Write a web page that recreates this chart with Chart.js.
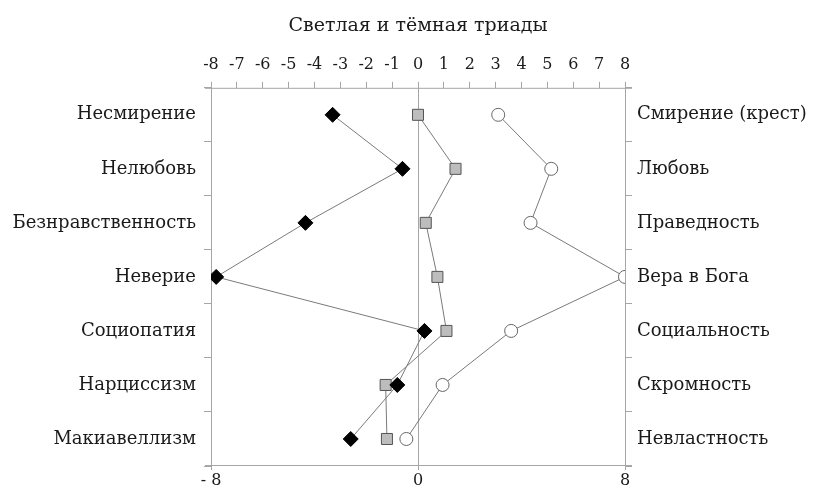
<!DOCTYPE html>
<html>
<head>
<meta charset="utf-8">
<script src="https://cdn.jsdelivr.net/npm/chart.js@4.4.1/dist/chart.umd.min.js"></script>
<style>
  html, body { margin: 0; padding: 0; background: #fff; }
  #wrap { width: 813px; height: 488px; }
</style>
</head>
<body>
<div id="wrap"><canvas id="triads"></canvas></div>
<script>
// categories (left = dark traits, right = light traits)
var darkLabels = ["Несмирение", "Нелюбовь", "Безнравственность", "Неверие", "Социопатия", "Нарциссизм", "Макиавеллизм"];
var lightLabels = ["Смирение (крест)", "Любовь", "Праведность", "Вера в Бога", "Социальность", "Скромность", "Невластность"];

// series values
var darkValues = [-3.3, -0.6, -4.35, -7.8, 0.25, -0.8, -2.6];
var middleValues = [0, 1.45, 0.3, 0.75, 1.1, -1.25, -1.2];
var lightValues = [3.1, 5.15, 4.35, 8, 3.6, 0.95, -0.45];

var topTicks = [-8, -7, -6, -5, -4, -3, -2, -1, 0, 1, 2, 3, 4, 5, 6, 7, 8];
var bottomTicks = [-8, 0, 8];

var serif = "'DejaVu Serif', 'Liberation Serif', serif";
var axisGrey = "#a6a6a6";
var lineGrey = "#7a7a7a";

// stretch the top / bottom axis lines a bit past the frame, like the original
var axisOverhang = {
	id: "axisOverhang",
	afterDraw: function (chart) {
		var a = chart.chartArea;
		var c = chart.ctx;
		c.save();
		c.strokeStyle = axisGrey;
		c.lineWidth = 1;
		c.beginPath();
		c.moveTo(a.left - 6, a.top + 0.5);
		c.lineTo(a.right + 7, a.top + 0.5);
		c.moveTo(a.left - 6, a.bottom - 0.5);
		c.lineTo(a.right + 7, a.bottom - 0.5);
		c.stroke();
		c.restore();
	}
};

var ctx = document.getElementById("triads");

var chart = new Chart(ctx, {
	type: "line",
	data: {
		labels: darkLabels,
		datasets: [
			{
				label: "Тёмная",
				data: darkValues,
				borderColor: lineGrey,
				borderWidth: 1,
				pointStyle: "rectRot",
				pointRadius: 7.5,
				pointBackgroundColor: "#000",
				pointBorderColor: "#000",
				pointBorderWidth: 1
			},
			{
				label: "Середина",
				data: middleValues,
				borderColor: lineGrey,
				borderWidth: 1,
				pointStyle: "rect",
				pointRadius: 7.8,
				pointBackgroundColor: "#bdbdbd",
				pointBorderColor: "#555",
				pointBorderWidth: 1
			},
			{
				label: "Светлая",
				data: lightValues,
				borderColor: lineGrey,
				borderWidth: 1,
				pointStyle: "circle",
				pointRadius: 6.5,
				pointBackgroundColor: "#fff",
				pointBorderColor: "#666",
				pointBorderWidth: 1
			}
		]
	},
	options: {
		indexAxis: "y",
		responsive: true,
		maintainAspectRatio: false,
		animation: false,
		layout: { padding: 0 },
		plugins: {
			legend: { display: false },
			tooltip: { enabled: false },
			title: {
				display: true,
				fullSize: false,
				text: "Светлая и тёмная триады",
				color: "#1a1a1a",
				font: { family: serif, size: 19, weight: "normal" },
				padding: { top: 15, bottom: 6 }
			}
		},
		scales: {
			x: {
				type: "linear",
				position: "bottom",
				min: -8,
				max: 8,
				afterBuildTicks: function (s) {
					s.ticks = bottomTicks.map(function (v) { return { value: v }; });
				},
				afterFit: function (s) { s.height = 22; },
				grid: {
					color: axisGrey,
					drawOnChartArea: true,
					tickLength: 4
				},
				border: { display: false },
				ticks: {
					color: "#1a1a1a",
					padding: 1,
					maxRotation: 0,
					font: { family: serif, size: 16 },
					callback: function (v) { return v < 0 ? "- " + Math.abs(v) : String(v); }
				}
			},
			x2: {
				type: "linear",
				position: "top",
				min: -8,
				max: 8,
				afterBuildTicks: function (s) {
					s.ticks = topTicks.map(function (v) { return { value: v }; });
				},
				afterFit: function (s) { s.height = 44; },
				grid: {
					color: axisGrey,
					drawOnChartArea: false,
					tickLength: 6
				},
				border: { display: false },
				ticks: {
					color: "#1a1a1a",
					padding: 7,
					maxRotation: 0,
					autoSkip: false,
					font: { family: serif, size: 16 }
				}
			},
			y: {
				type: "category",
				position: "left",
				offset: true,
				afterFit: function (s) { s.width = 211; },
				grid: {
					offset: true,
					color: axisGrey,
					drawOnChartArea: false,
					tickLength: 7
				},
				border: { display: true, color: axisGrey },
				ticks: {
					color: "#1a1a1a",
					padding: 8,
					font: { family: serif, size: 18 }
				}
			},
			y2: {
				type: "category",
				position: "right",
				labels: lightLabels,
				offset: true,
				afterFit: function (s) { s.width = 188; },
				grid: {
					offset: true,
					color: axisGrey,
					drawOnChartArea: false,
					tickLength: 7
				},
				border: { display: true, color: axisGrey },
				ticks: {
					color: "#1a1a1a",
					padding: 5,
					font: { family: serif, size: 18 }
				}
			}
		}
	},
	plugins: [axisOverhang]
});
</script>
</body>
</html>
